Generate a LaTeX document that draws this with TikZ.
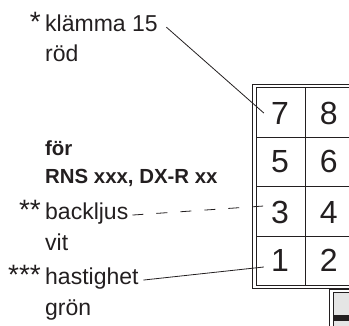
\documentclass[tikz,border=0pt]{standalone}
\usepackage{fontspec}
\setmainfont{Liberation Sans}
\usetikzlibrary{positioning}
\definecolor{wire}{HTML}{231F20}
\tikzset{label-text/.style =
   {anchor=base west,
    inner sep=0pt,
    text=wire,
    font=\fontsize{23}{25}\selectfont}}
\tikzset{label-bold/.style =
   {label-text,
    font=\fontsize{20.4}{22}\bfseries\selectfont}}
\tikzset{star-text/.style =
   {anchor=base east,
    inner sep=0pt,
    text=wire,
    font=\fontsize{28}{28}\selectfont}}
\tikzset{pin-text/.style =
   {inner sep=0pt,
    text=wire,
    font=\fontsize{32}{32}\selectfont}}
\tikzset{wire-line/.style = {draw=wire, line width=0.8pt}}
\tikzset{box-line/.style = {draw=wire, line width=0.75pt}}

\begin{document}
\begin{tikzpicture}[x=1pt,y=-1pt]

        \useasboundingbox (0,0) rectangle (349,326);

        % texts on the left
        \node [label-text] (klamma) at (45,32) {klämma 15};
        \node [label-text] (rod) at (45,62) {röd};
        \node [label-bold] (for) at (45,156) {för};
        \node [label-bold] (rns) at (45,184) {RNS xxx, DX-R xx};
        \node [label-text] (backljus) at (45,220) {backljus};
        \node [label-text] (vit) at (45,251) {vit};
        \node [label-text] (hastighet) at (45,285) {hastighet};
        \node [label-text] (gron) at (45,316) {grön};

        \node [star-text] (star1) at (41,32) {*};
        \node [star-text] (star2) at (41,220) {**};
        \node [star-text] (star3) at (41,285) {***};

        % connector box
        \draw [box-line] (252.3,84.3) rectangle (352,288.3);
        \draw [box-line] (256,87.8) rectangle (352,285);
        \draw [box-line] (305.3,87.8) -- (305.3,285);
        \foreach \y in {137.3,186,236}
            \draw [box-line] (256,\y) -- (352,\y);

        % pins
        \node [pin-text] (pin7) at (280,113) {7};
        \node [pin-text] (pin8) at (328.7,113) {8};
        \node [pin-text] (pin5) at (280,161.7) {5};
        \node [pin-text] (pin6) at (328.7,161.7) {6};
        \node [pin-text] (pin3) at (280,212.7) {3};
        \node [pin-text] (pin4) at (328.7,212.7) {4};
        \node [pin-text] (pin1) at (280,260.7) {1};
        \node [pin-text] (pin2) at (328.7,260.7) {2};

        % wires
        \draw [wire-line] ([xshift=8.5pt,yshift=-3.4pt]klamma.east) -- ([xshift=-7.1pt]pin7.west);
        \draw [wire-line, dash pattern=on 11pt off 13pt] ([xshift=4pt,yshift=-1pt]backljus.east) -- ([xshift=-7.1pt,yshift=6.7pt]pin3.west);
        \draw [wire-line] ([xshift=4.7pt,yshift=-1pt]hastighet.east) -- ([xshift=-7.1pt,yshift=-6.3pt]pin1.west);

        % part of the next box
        \draw [box-line] (329.5,330) -- (329.5,289.3) -- (352,289.3);
        \fill [black!10] (333.3,292.3) rectangle (352,330);
        \draw [box-line] (333.3,330) -- (333.3,292.3) -- (352,292.3);
        \fill [wire] (333.3,315) rectangle (352,320.7);

    \end{tikzpicture}
\end{document}
